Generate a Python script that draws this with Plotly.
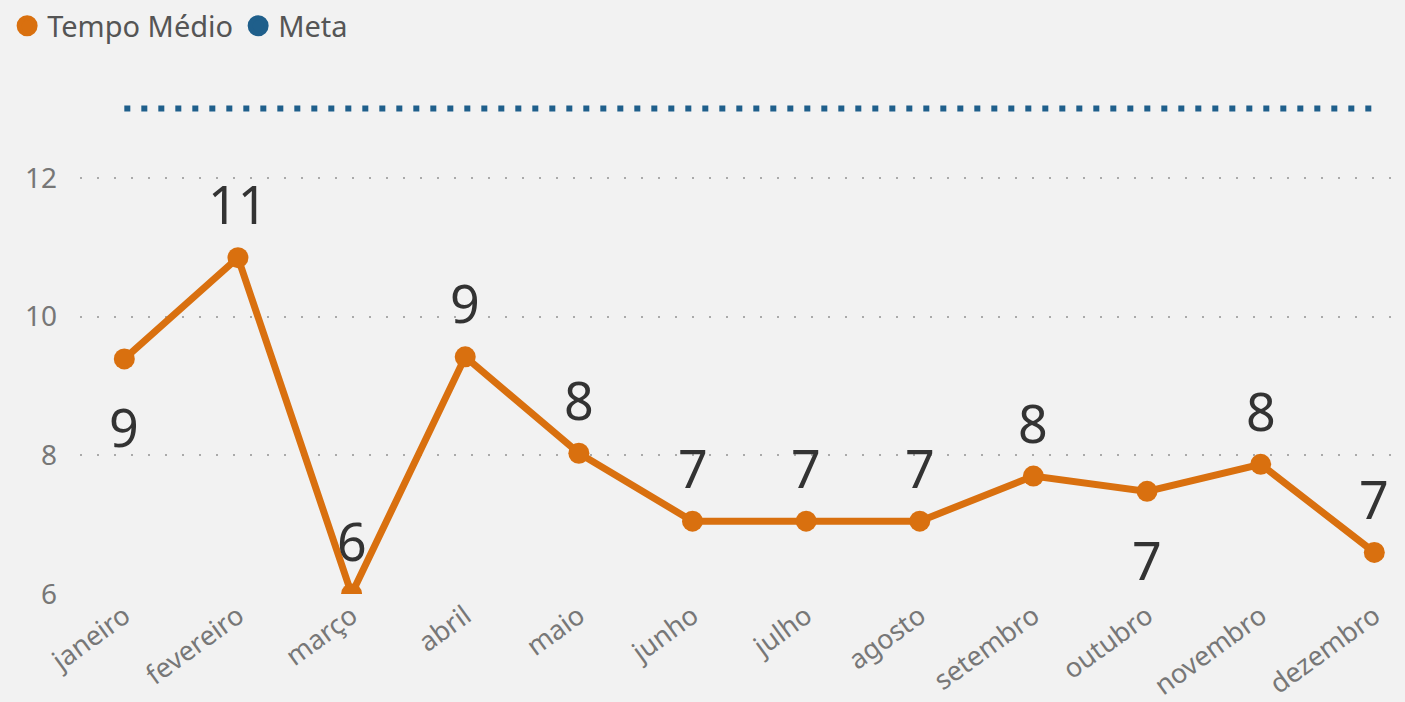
import plotly.graph_objects as go

months = ["janeiro", "fevereiro", "março", "abril", "maio", "junho", "julho",
          "agosto", "setembro", "outubro", "novembro", "dezembro"]
tempo_medio = [9.39, 10.85, 6.0, 9.42, 8.03, 7.05, 7.05, 7.05, 7.70, 7.48, 7.87, 6.60]
meta = [13] * 12
label_text = ["9", "11", "6", "9", "8", "7", "7", "7", "8", "7", "8", "7"]
label_side = ["below", "above", "above", "above", "above", "above", "above",
              "above", "above", "below", "above", "above"]
y_ticks = [6, 8, 10, 12]

ORANGE = "#D9700F"
BLUE = "#1F5F8B"
FONT = "Segoe UI, Noto Sans, Open Sans, sans-serif"

fig = go.Figure()
fig.add_trace(go.Scatter(
    x=months, y=meta, name="Meta", mode="lines",
    line=dict(color=BLUE, width=6, dash="6px,11px"),
    showlegend=False, cliponaxis=False,
))
fig.add_trace(go.Scatter(
    x=months, y=tempo_medio, name="Tempo Médio", mode="lines+markers",
    line=dict(color=ORANGE, width=7),
    marker=dict(color=ORANGE, size=21),
    showlegend=False, cliponaxis=True,
))
# legend entries (circle symbols, as in the reference)
fig.add_trace(go.Scatter(x=[None], y=[None], name="Tempo Médio", mode="markers",
                         marker=dict(color=ORANGE, size=24, line=dict(color=ORANGE, width=8)),
                         legendrank=1))
fig.add_trace(go.Scatter(x=[None], y=[None], name="Meta", mode="markers",
                         marker=dict(color=BLUE, size=24, line=dict(color=BLUE, width=8)),
                         legendrank=2))

for m, v, t, s in zip(months, tempo_medio, label_text, label_side):
    fig.add_annotation(
        x=m, y=v, text=t, showarrow=False,
        yshift=54 if s == "above" else -68,
        font=dict(size=52, color="#333333", family=FONT),
    )

fig.update_layout(
    width=1405, height=702,
    paper_bgcolor="#F2F2F2", plot_bgcolor="#F2F2F2",
    margin=dict(l=80, r=0, t=60, b=104),
    font=dict(family=FONT, color="#666666"),
    legend=dict(orientation="h", x=-0.055, xanchor="left", y=1.078, yanchor="middle",
                font=dict(size=29, color="#555555"), itemsizing="trace",
                traceorder="normal", itemwidth=30, tracegroupgap=0,
                bgcolor="rgba(0,0,0,0)"),
    showlegend=True,
)
fig.update_xaxes(
    range=[-0.39, 11.27], showgrid=False, zeroline=False, showline=False,
    tickangle=-36, tickfont=dict(size=27, color="#777777"), ticks="",
)
fig.update_yaxes(
    range=[6, 13.6], tickvals=y_ticks, showgrid=True, gridcolor="#AAAAAA",
    gridwidth=2, griddash="2px,15px", zeroline=False, showline=False,
    tickfont=dict(size=28, color="#777777"), ticks="", ticklabelstandoff=22,
)

fig.write_html(
    "out.html",
    config={"displayModeBar": False},
    post_script="document.body.style.margin='0';document.body.style.background='#F2F2F2';",
)
